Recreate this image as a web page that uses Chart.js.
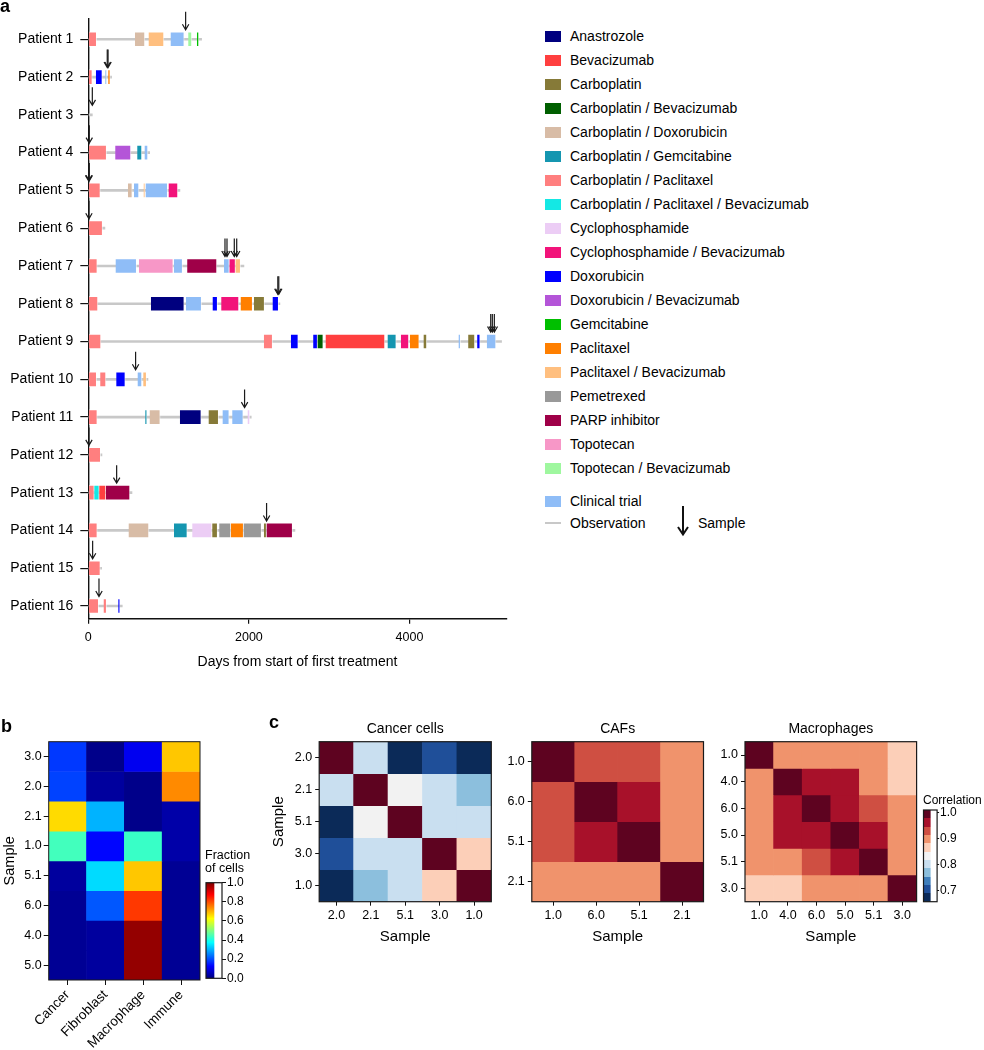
<!DOCTYPE html>
<html><head><meta charset="utf-8">
<script src="https://cdn.jsdelivr.net/npm/chart.js@4.4.1/dist/chart.umd.min.js"></script>
<style>
body{margin:0;background:#fff;width:984px;height:1050px;position:relative;overflow:hidden;font-family:"Liberation Sans",Arial,Helvetica,sans-serif;color:#000}
canvas{position:absolute}
.t{position:absolute;white-space:nowrap}
.sw{position:absolute;width:16px;height:11px}
</style></head><body>
<canvas id="cA" width="520" height="671" style="left:0;top:0"></canvas>
<div id="legend"></div>
<canvas id="cB" width="205" height="330" style="left:0;top:720px"></canvas>
<canvas id="cBbar" width="60" height="150" style="left:200px;top:840px"></canvas>
<canvas id="cC1" width="225" height="236" style="left:270px;top:710px"></canvas>
<canvas id="cC2" width="215" height="236" style="left:495px;top:710px"></canvas>
<canvas id="cC3" width="215" height="236" style="left:705px;top:710px"></canvas>
<canvas id="cCbar" width="66" height="236" style="left:918px;top:710px"></canvas>
<div class="t" style="left:0;top:-3.5px;font-size:18px;line-height:18px;font-weight:bold">a</div>
<div class="t" style="left:1px;top:716.5px;font-size:18px;line-height:18px;font-weight:bold">b</div>
<div class="t" style="left:269px;top:713px;font-size:18px;line-height:18px;font-weight:bold">c</div>
<div class="t" style="left:205px;top:849px;font-size:12.5px;line-height:13.3px">Fraction<br>of cells</div>
<div class="t" style="left:923px;top:793px;font-size:12px;line-height:14px">Correlation</div>
<svg style="position:absolute;left:676px;top:505px" width="14" height="32"><path d="M7 1 V29 M2 22 L7 29.5 L12 22" stroke="#111" stroke-width="2" fill="none"/></svg>
<script>
const F = "'Liberation Sans', Arial, Helvetica, sans-serif";
Chart.defaults.font.family = F;
Chart.defaults.color = '#000';

// ---------- Panel a data ----------
const drugCodes = ["ANA","BEV","CARBO","CB","CD","CG","CP","CPB","CYC","CYB","DOX","DB","GEM","PAC","PB","PEM","PARP","TOP","TB","CT"];
const drugNames = ["Anastrozole","Bevacizumab","Carboplatin","Carboplatin / Bevacizumab","Carboplatin / Doxorubicin","Carboplatin / Gemcitabine","Carboplatin / Paclitaxel","Carboplatin / Paclitaxel / Bevacizumab","Cyclophosphamide","Cyclophosphamide / Bevacizumab","Doxorubicin","Doxorubicin / Bevacizumab","Gemcitabine","Paclitaxel","Paclitaxel / Bevacizumab","Pemetrexed","PARP inhibitor","Topotecan","Topotecan / Bevacizumab","Clinical trial"];
const drugColors = ["#00007f","#ff3f3f","#867a38","#005f00","#d8bca6","#1596b0","#ff7f7f","#14e8e4","#eccdf5","#f2137a","#0000ff","#b455d8","#00bf00","#ff7f00","#ffbf7f","#999999","#9f0048","#f797c7","#9ff79f","#8fbdf7"];
const patientLabels = ["Patient 1","Patient 2","Patient 3","Patient 4","Patient 5","Patient 6","Patient 7","Patient 8","Patient 9","Patient 10","Patient 11","Patient 12","Patient 13","Patient 14","Patient 15","Patient 16"];
const dayTicks = [0, 2000, 4000];
const observationEnd = [1411, 290, 50, 764, 1141, 207, 1938, 2386, 5146, 743, 2029, 170, 544, 2573, 166, 423];

const patient1 = [["CP",0,104],["CD",581,705],["PB",751,942],["CT",1025,1195],["TB",1245,1290],["GEM",1353,1378]];
const patient2 = [["CP",0,50],["DOX",95,175],["CT",212,228],["PAC",249,274]];
const patient3 = [];
const patient4 = [["CP",0,228],["DB",336,531],["CG",610,668],["CT",701,743]];
const patient5 = [["CP",0,150],["CD",494,548],["CT",569,631],["PB",689,705],["CT",714,988],["CYB",1000,1116]];
const patient6 = [["CP",0,178]];
const patient7 = [["CP",0,112],["CT",340,602],["TOP",631,1058],["CT",1066,1174],["PARP",1232,1602],["CT",1690,1756],["CYB",1758,1833],["PB",1833,1897]];
const patient8 = [["CP",0,120],["ANA",780,1195],["CT",1216,1411],["DOX",1548,1610],["CYB",1656,1876],["PAC",1897,2046],["CARBO",2063,2195],["DOX",2295,2370]];
const patient9 = [["CP",0,158],["CP",2187,2295],["DOX",2523,2615],["DOX",2801,2855],["CB",2855,2926],["BEV",2955,3694],["CG",3727,3835],["CYB",3893,3992],["PAC",4005,4121],["CARBO",4175,4216],["CT",4611,4636],["CARBO",4731,4814],["DOX",4843,4880],["CT",4963,5077]];
const patient10 = [["CP",0,104],["CP",149,220],["DOX",349,461],["CT",614,668],["PB",685,726]];
const patient11 = [["CP",0,112],["CG",710,730],["CD",764,896],["ANA",1141,1407],["CARBO",1498,1623],["CT",1672,1755],["CT",1793,1930],["CYC",1984,2013]];
const patient12 = [["CP",0,154]];
const patient13 = [["CP",0,75],["CPB",75,137],["BEV",137,220],["PARP",220,519]];
const patient14 = [["CP",0,112],["CD",502,755],["CG",1067,1233],["CYC",1295,1540],["CARBO",1544,1610],["PEM",1631,1776],["PAC",1776,1934],["PEM",1934,2158],["CARBO",2187,2220],["PARP",2220,2544]];
const patient15 = [["CP",0,150]];
const patient16 = [["CP",0,129],["CP",191,228],["DOX",374,394]];
const patientSegments = [patient1,patient2,patient3,patient4,patient5,patient6,patient7,patient8,patient9,patient10,patient11,patient12,patient13,patient14,patient15,patient16];

const sampleDay     = [1212, 236, 246, 50, 12, 4, 12, 8, 1702, 1727, 1818, 1848, 2360, 2372, 5011, 5031, 5056, 589, 1946, 8, 353, 2220, 54, 133];
const samplePatient = [1,    2,   2,   3,  4,  5, 5,  6, 7,    7,    7,    7,    8,    8,    9,    9,    9,    10,  11,   12, 13,  14,   15, 16];

// ---------- Panel b data ----------
const cellTypes = ["Cancer","Fibroblast","Macrophage","Immune"];
const samplesB = ["3.0","2.0","2.1","1.0","5.1","6.0","4.0","5.0"];
const fractionCancer     = [0.18, 0.19, 0.66, 0.44, 0.03, 0.02, 0.02, 0.02];
const fractionFibroblast = [0.01, 0.03, 0.30, 0.13, 0.34, 0.21, 0.03, 0.03];
const fractionMacrophage = [0.11, 0.01, 0.01, 0.43, 0.68, 0.82, 0.98, 0.98];
const fractionImmune     = [0.68, 0.74, 0.04, 0.04, 0.02, 0.02, 0.02, 0.02];
const fractionTicks = [0, 0.2, 0.4, 0.6, 0.8, 1.0];

// ---------- Panel c data ----------
const samplesCancer = ["2.0","2.1","5.1","3.0","1.0"];
const corrCancer = [
  [1.00, 0.80, 0.67, 0.705, 0.67],
  [0.80, 1.00, 0.835, 0.80, 0.77],
  [0.67, 0.835, 1.00, 0.80, 0.80],
  [0.705, 0.80, 0.80, 1.00, 0.865],
  [0.67, 0.77, 0.80, 0.865, 1.00]];
const samplesCAF = ["1.0","6.0","5.1","2.1"];
const corrCAF = [
  [1.00, 0.93, 0.93, 0.90],
  [0.93, 1.00, 0.96, 0.90],
  [0.93, 0.96, 1.00, 0.90],
  [0.90, 0.90, 0.90, 1.00]];
const samplesMacro = ["1.0","4.0","6.0","5.0","5.1","3.0"];
const corrMacro = [
  [1.00, 0.90, 0.90, 0.90, 0.90, 0.865],
  [0.90, 1.00, 0.96, 0.96, 0.90, 0.865],
  [0.90, 0.96, 1.00, 0.96, 0.93, 0.90],
  [0.90, 0.96, 0.96, 1.00, 0.96, 0.90],
  [0.90, 0.90, 0.93, 0.96, 1.00, 0.90],
  [0.865, 0.865, 0.90, 0.90, 0.90, 1.00]];
const corrTicks = [0.7, 0.8, 0.9, 1.0];
const corrRange = [0.658, 1.01];
const corrPalette = ["#0b2a58","#1f4f99","#3f7fbc","#8cbfdd","#c9dff0","#f2f2f2","#fccfb8","#f0936c","#cf4f42","#a8112a","#5e0320"];

// ---------- colour helpers ----------
function jet(v){
  const c = x => Math.round(255*Math.max(0, Math.min(1, x)));
  return `rgb(${c(1.5-Math.abs(4*v-3))},${c(1.5-Math.abs(4*v-2))},${c(1.5-Math.abs(4*v-1))})`;
}
const jetStops = [0, 0.125, 0.375, 0.625, 0.875, 1];
function corrColor(v){
  const n = corrPalette.length;
  let i = Math.floor((v - corrRange[0]) / (corrRange[1] - corrRange[0]) * n);
  i = Math.max(0, Math.min(n-1, i));
  return corrPalette[i];
}

// ---------- plugins ----------
const framePlugin = {id:'frame', afterDraw(chart, args, opts){
  if(!opts || !opts.color) return;
  const {left, top, width, height} = chart.chartArea;
  const ctx = chart.ctx; ctx.save();
  ctx.strokeStyle = opts.color; ctx.lineWidth = opts.width || 1;
  ctx.strokeRect(left, top, width, height); ctx.restore();
}};
const arrowPlugin = {id:'sampleArrows', afterDatasetsDraw(chart){
  const {ctx, scales:{x, y}} = chart;
  ctx.save(); ctx.strokeStyle = '#1a1a1a'; ctx.lineWidth = 1.2;
  sampleDay.forEach((d, i) => {
    const px = x.getPixelForValue(d), py = y.getPixelForValue(samplePatient[i]);
    const tip = py - 9.5, tail = tip - 18;
    ctx.beginPath();
    ctx.moveTo(px, tail); ctx.lineTo(px, tip);
    ctx.moveTo(px - 3.2, tip - 5.5); ctx.lineTo(px, tip); ctx.lineTo(px + 3.2, tip - 5.5);
    ctx.stroke();
  });
  ctx.restore();
}};

// ---------- Panel a chart ----------
const segData = [];
patientSegments.forEach((segs, i) => segs.forEach(([code, s, e]) => segData.push({x:[s, e], y:i+1, code})));
const obsData = observationEnd.map((e, i) => ({x:[0, e], y:i+1}));

new Chart(document.getElementById('cA'), {
  type:'bar',
  data:{datasets:[
    {label:'Observation', data:obsData, backgroundColor:'#c8c8c8', barThickness:2, grouped:false, order:2, borderWidth:0},
    {label:'Treatment', data:segData, backgroundColor:ctx => drugColors[drugCodes.indexOf(ctx.raw.code)],
     borderColor:'rgba(255,255,255,0.55)', borderWidth:1, barThickness:15, grouped:false, order:1}
  ]},
  options:{
    indexAxis:'y', responsive:false, animation:false, events:[],
    layout:{padding:{top:19, right:13.3, bottom:0, left:0}},
    plugins:{legend:{display:false}, tooltip:{enabled:false}},
    scales:{
      x:{type:'linear', min:0, max:5210,
        afterBuildTicks:s => { s.ticks = dayTicks.map(v => ({value:v})); },
        afterFit:s => { s.height = 52.3; },
        grid:{display:true, drawOnChartArea:false, drawTicks:true, tickLength:5, color:'#111', lineWidth:1.2},
        border:{display:true, color:'#111', width:1.4},
        ticks:{font:{size:12.5}, color:'#000', padding:6, maxRotation:0, callback:v => String(v)},
        title:{display:true, text:'Days from start of first treatment', font:{size:14}, color:'#000', padding:0}},
      y:{type:'linear', reverse:true, min:0.463, max:16.336, offset:false, bounds:'data',
        afterBuildTicks:s => { s.ticks = patientLabels.map((_, i) => ({value:i+1})); },
        afterFit:s => { s.width = 88.3; },
        grid:{display:true, offset:false, drawOnChartArea:false, drawTicks:true, tickLength:8, color:'#111', lineWidth:1.2},
        border:{display:true, color:'#111', width:1.4},
        ticks:{font:{size:14}, color:'#000', padding:7, autoSkip:false, callback:v => patientLabels[Math.round(v)-1]}}
    }
  },
  plugins:[arrowPlugin]
});

// ---------- Panel a legend (HTML) ----------
(function(){
  const lg = document.getElementById('legend');
  let html = '';
  for (let i = 0; i < 19; i++) {
    const cy = 36 + 24*i;
    html += `<div class="sw" style="left:545px;top:${cy-5.5}px;background:${drugColors[i]}"></div>`;
    html += `<div class="t" style="left:570px;top:${cy-8}px;font-size:14px;line-height:16px">${drugNames[i]}</div>`;
  }
  html += `<div class="sw" style="left:545px;top:${501-5.5}px;background:${drugColors[19]}"></div>`;
  html += `<div class="t" style="left:570px;top:${501-8}px;font-size:14px;line-height:16px">${drugNames[19]}</div>`;
  html += `<div style="position:absolute;left:545px;top:522px;width:16px;height:2px;background:#c8c8c8"></div>`;
  html += `<div class="t" style="left:570px;top:${522.7-8}px;font-size:14px;line-height:16px">Observation</div>`;
  html += `<div class="t" style="left:698px;top:${522.7-8}px;font-size:14px;line-height:16px">Sample</div>`;
  lg.innerHTML = html;
})();

// ---------- heatmap factory ----------
function heatmap(id, c){
  const n = c.yLabels.length;
  const datasets = c.rows.map((row, r) => ({
    data: row.map(() => [r - 0.5, r + 0.5]),
    backgroundColor: row.map(c.colorOf),
    borderWidth:0, grouped:false, barPercentage:1, categoryPercentage:1
  }));
  return new Chart(document.getElementById(id), {
    type:'bar',
    data:{labels:c.xLabels, datasets},
    options:{
      responsive:false, animation:false, events:[],
      layout:{padding:c.pad},
      plugins:{legend:{display:false}, tooltip:{enabled:false},
        title: c.title ? {display:true, text:c.title, fullSize:false, font:{size:14, weight:'normal'}, color:'#000', padding:{top:10.6, bottom:4.3}} : {display:false},
        frame:{color:'#1a1a1a', width:c.frameW || 1.2}},
      scales:{
        x:{type:'category', offset:true,
          afterFit:s => { s.height = c.xHeight; },
          grid:{display:true, drawOnChartArea:false, offset:false, drawTicks:true, tickLength:c.xTick, color:'#111'},
          border:{display:false},
          ticks:{font:{size:c.xFont}, color:'#000', padding:c.xPad, minRotation:c.xRot, maxRotation:c.xRot, autoSkip:false},
          title: c.xTitle ? {display:true, text:c.xTitle, font:{size:15}, color:'#000', padding:0} : {display:false}},
        y:{type:'linear', reverse:true, min:-0.5, max:n - 0.5, offset:false,
          afterBuildTicks:s => { s.ticks = c.yLabels.map((_, i) => ({value:i})); },
          afterFit:s => { s.width = c.yWidth; },
          grid:{display:true, offset:false, drawOnChartArea:false, drawTicks:true, tickLength:c.yTick, color:'#111'},
          border:{display:false},
          ticks:{font:{size:c.yFont}, color:'#000', padding:c.yPad, autoSkip:false, callback:v => c.yLabels[Math.round(v)]},
          title: c.yTitle ? {display:true, text:c.yTitle, font:{size:c.yTitleSize || 15}, color:'#000', padding:{top:c.yTitlePad || 0, bottom:0}} : {display:false}}
      }
    },
    plugins:[framePlugin]
  });
}

// ---------- colourbar factory ----------
function colorbar(id, c){
  return new Chart(document.getElementById(id), {
    type:'bar',
    data:{labels:[''], datasets:[{data:[[c.min, c.max]], borderWidth:0, barPercentage:1, categoryPercentage:1,
      backgroundColor:(ctx) => {
        const ca = ctx.chart.chartArea; if (!ca) return '#fff';
        const g = ctx.chart.ctx.createLinearGradient(0, ca.bottom, 0, ca.top);
        c.stops(g);
        return g;
      }}]},
    options:{
      responsive:false, animation:false, events:[],
      layout:{padding:c.pad},
      plugins:{legend:{display:false}, tooltip:{enabled:false}, frame:{color:'#1a1a1a', width:1.2}},
      scales:{
        x:{display:false, offset:false},
        y:{position:'right', min:c.min, max:c.max,
          afterBuildTicks:s => { s.ticks = c.ticks.map(v => ({value:v})); },
          afterFit:s => { s.width = c.width; },
          grid:{display:true, drawOnChartArea:false, drawTicks:true, tickLength:c.tickLen, color:'#111'},
          border:{display:false},
          ticks:{font:{size:12}, color:'#000', padding:c.tickPad, autoSkip:false, callback:v => Number(v).toFixed(1)}}
      }
    },
    plugins:[framePlugin]
  });
}

// ---------- Panel b ----------
const rowsB = samplesB.map((_, r) => [fractionCancer[r], fractionFibroblast[r], fractionMacrophage[r], fractionImmune[r]]);
heatmap('cB', {xLabels:cellTypes, yLabels:samplesB, rows:rowsB, colorOf:jet,
  pad:{top:21.7, right:5, bottom:0, left:0}, xHeight:70, yWidth:48.7,
  xTick:5, xPad:2, xFont:13.5, xRot:45, yTick:5, yPad:2, yFont:12.5,
  yTitle:'Sample', yTitleSize:14.5, yTitlePad:1.3, frameW:1});
colorbar('cBbar', {min:0, max:1, ticks:fractionTicks, width:38, tickLen:4, tickPad:1,
  pad:{top:42.7, right:0, bottom:11.7, left:6},
  stops:g => jetStops.forEach(t => g.addColorStop(t, jet(t)))});

// ---------- Panel c ----------
heatmap('cC1', {title:'Cancer cells', xLabels:samplesCancer, yLabels:samplesCancer, rows:corrCancer, colorOf:corrColor,
  pad:{top:0, right:3.7, bottom:0, left:0}, xHeight:44.3, yWidth:49.2,
  xTick:4, xPad:2.5, xFont:12.5, xRot:0, yTick:4, yPad:3, yFont:12.5, xTitle:'Sample', yTitle:'Sample'});
heatmap('cC2', {title:'CAFs', xLabels:samplesCAF, yLabels:samplesCAF, rows:corrCAF, colorOf:corrColor,
  pad:{top:0, right:6.5, bottom:0, left:0}, xHeight:44.3, yWidth:36.8,
  xTick:4, xPad:2.5, xFont:12.5, xRot:0, yTick:4, yPad:3, yFont:12.5, xTitle:'Sample'});
heatmap('cC3', {title:'Macrophages', xLabels:samplesMacro, yLabels:samplesMacro, rows:corrMacro, colorOf:corrColor,
  pad:{top:0, right:3.4, bottom:0, left:0}, xHeight:44.3, yWidth:40,
  xTick:4, xPad:2.5, xFont:12.5, xRot:0, yTick:4, yPad:3, yFont:12.5, xTitle:'Sample'});
colorbar('cCbar', {min:corrRange[0], max:corrRange[1], ticks:corrTicks, width:46.9, tickLen:2, tickPad:1,
  pad:{top:100, right:0, bottom:44.3, left:5.5},
  stops:g => corrPalette.forEach((col, i) => { g.addColorStop(i/corrPalette.length, col); g.addColorStop((i+1)/corrPalette.length, col); })});
</script>
</body></html>
